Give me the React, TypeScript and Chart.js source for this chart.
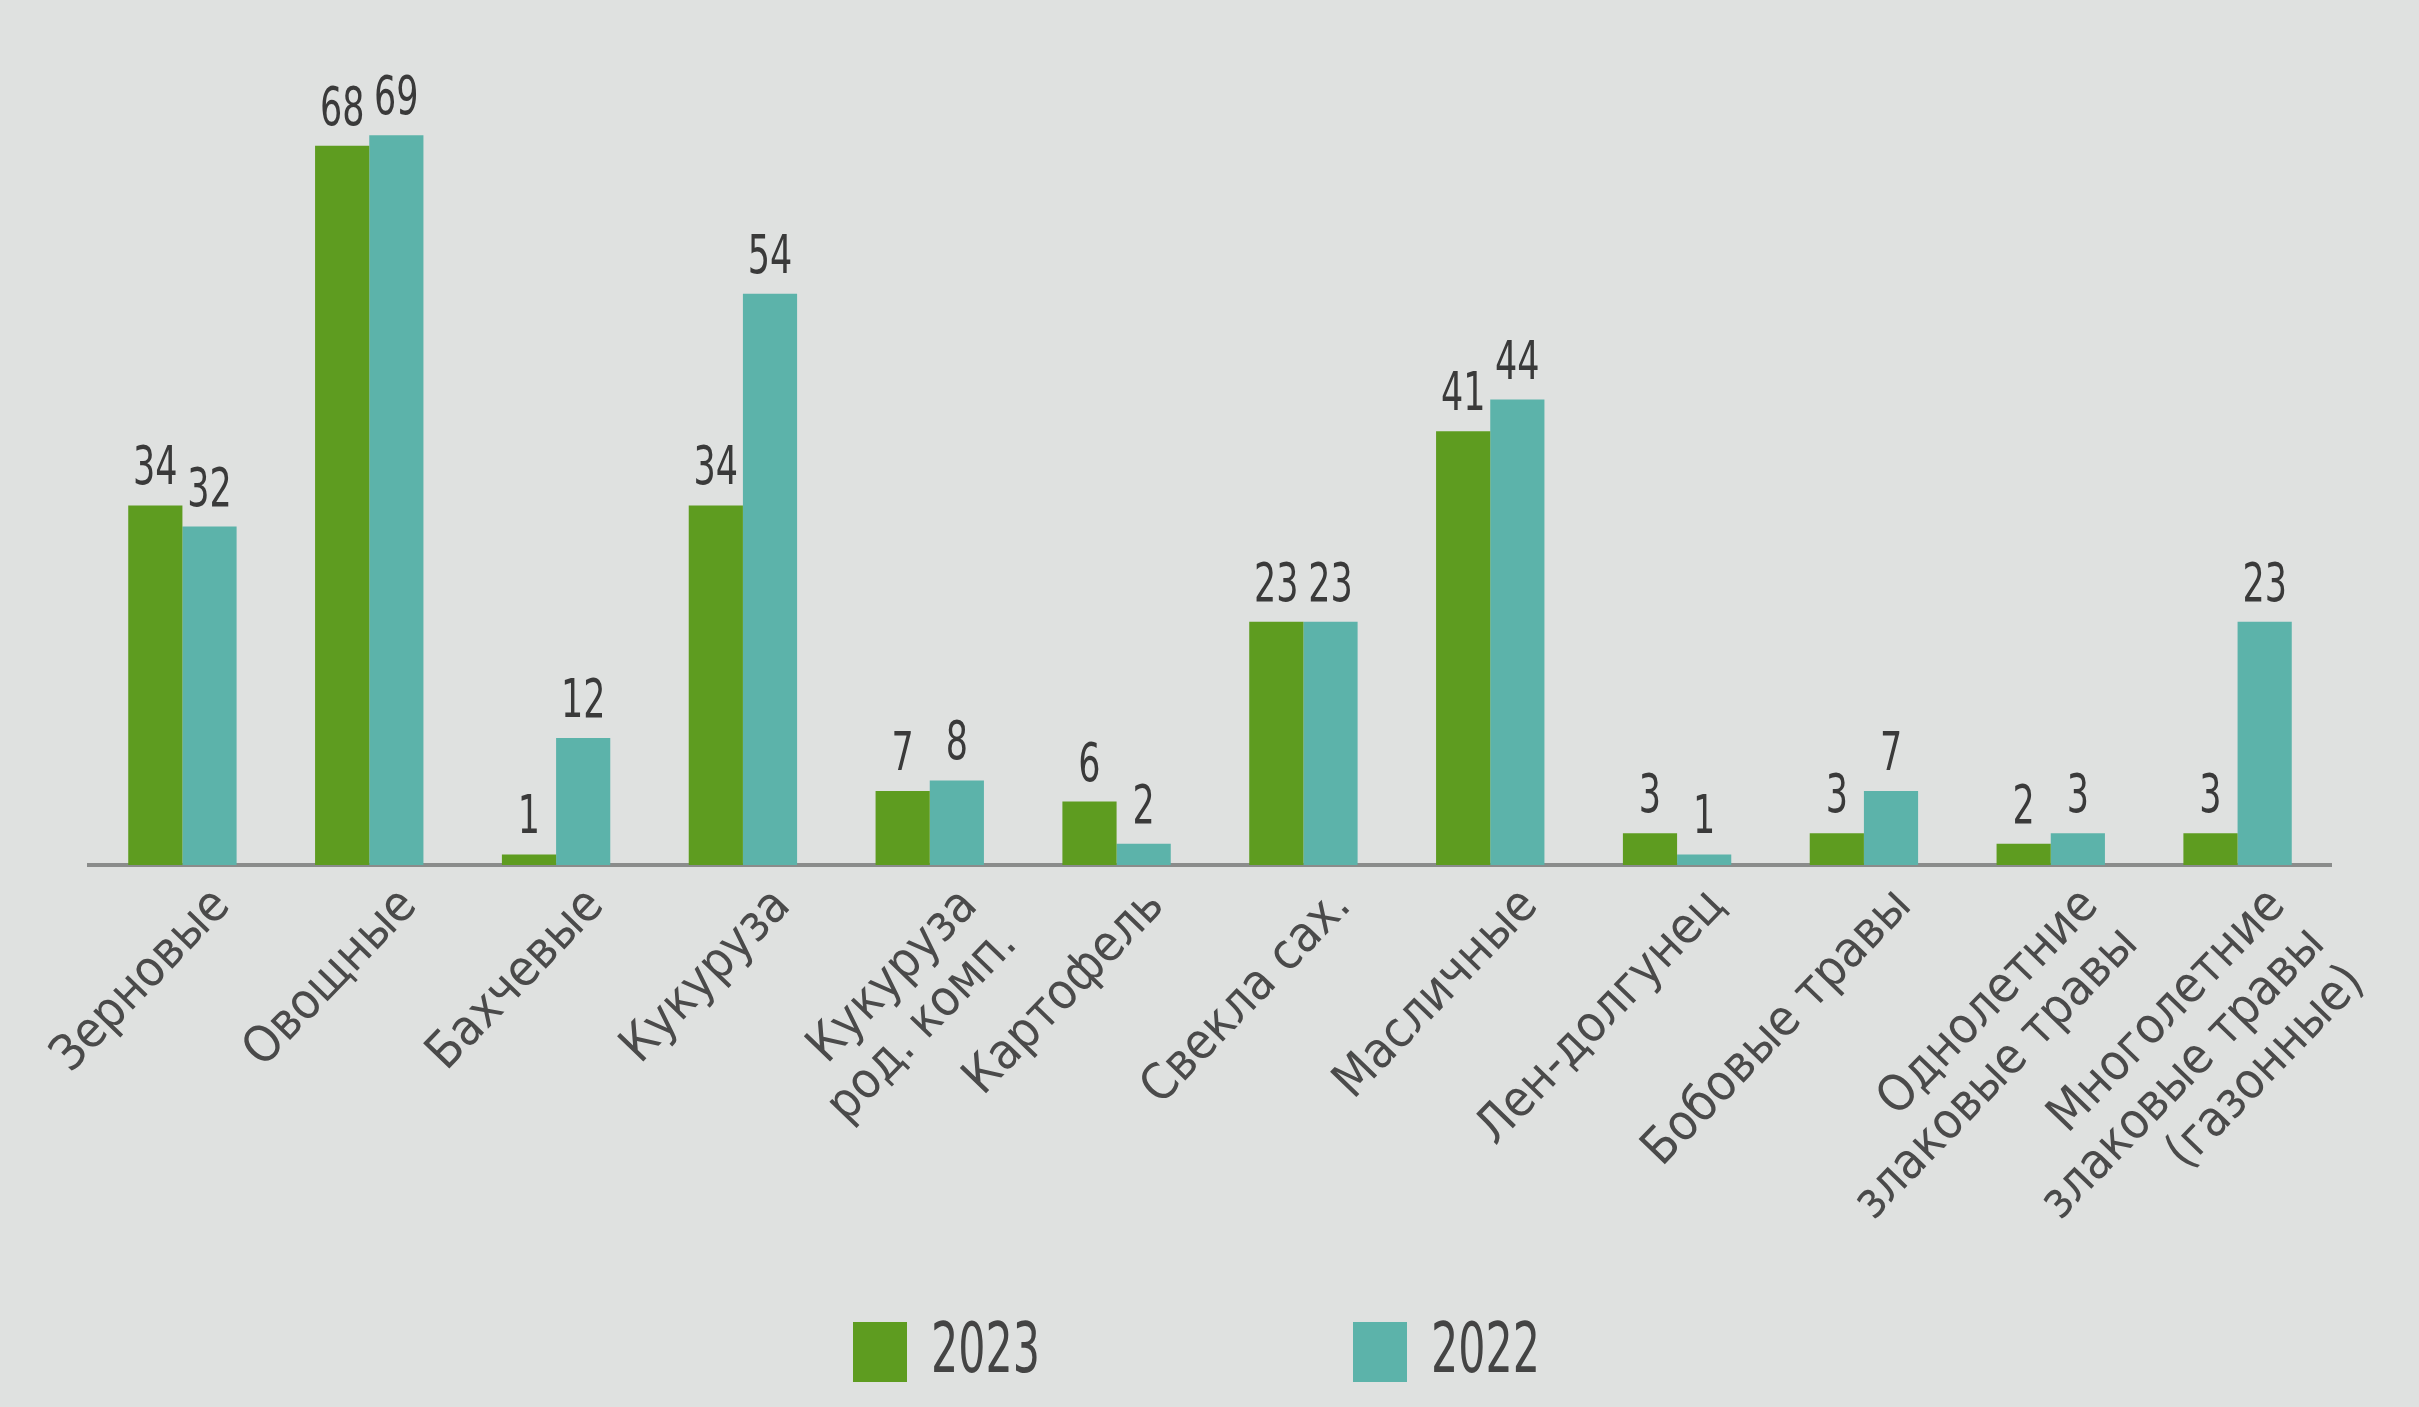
import React, { useEffect, useRef } from "react";
import { Chart, registerables } from "chart.js";

Chart.register(...registerables);

const categories: string[][] = [
  ["Зерновые"],
  ["Овощные"],
  ["Бахчевые"],
  ["Кукуруза"],
  ["Кукуруза", "род. комп."],
  ["Картофель"],
  ["Свекла сах."],
  ["Масличные"],
  ["Лен-долгунец"],
  ["Бобовые травы"],
  ["Однолетние", "злаковые травы"],
  ["Многолетние", "злаковые травы", "(газонные)"],
];

const values2023 = [34, 68, 1, 34, 7, 6, 23, 41, 3, 3, 2, 3];
const values2022 = [32, 69, 12, 54, 8, 2, 23, 44, 1, 7, 3, 23];

const seriesLabels = ["2023", "2022"];
const GREEN = "#5e9c20";
const TEAL = "#5cb3aa";
const BG = "#dfe1e0";
const TEXT = "#3a3a3a";
const FONT = '"DejaVu Sans Condensed", "DejaVu Sans", sans-serif';

// draw text horizontally condensed
function drawNarrow(ctx: any, text: string, x: number, y: number, sx: number) {
  ctx.save();
  ctx.translate(x, y);
  ctx.scale(sx, 1);
  ctx.fillText(text, 0, 0);
  ctx.restore();
}

const valueLabelsPlugin = {
  id: "valueLabels",
  afterDatasetsDraw(chart: any) {
    const ctx = chart.ctx;
    ctx.save();
    ctx.fillStyle = TEXT;
    ctx.font = `54px ${FONT}`;
    ctx.textAlign = "center";
    ctx.textBaseline = "bottom";
    chart.data.datasets.forEach((ds: any, i: number) => {
      const meta = chart.getDatasetMeta(i);
      meta.data.forEach((bar: any, j: number) => {
        drawNarrow(ctx, String(ds.data[j]), bar.x, bar.y - 8, 0.72);
      });
    });
    ctx.restore();
  },
};

const customLegendPlugin = {
  id: "customLegend",
  afterDraw(chart: any) {
    const ctx = chart.ctx;
    ctx.save();
    ctx.font = `70px ${FONT}`;
    ctx.textBaseline = "middle";
    ctx.textAlign = "left";
    const starts = [853, 1353];
    const cy = 1352;
    chart.data.datasets.forEach((ds: any, i: number) => {
      const x = starts[i];
      ctx.fillStyle = ds.backgroundColor;
      ctx.fillRect(x, cy - 30, 54, 60);
      ctx.fillStyle = "#444";
      drawNarrow(ctx, ds.label, x + 78, cy + 2, 0.68);
    });
    ctx.restore();
  },
};

export default function App() {
  const canvasRef = useRef<HTMLCanvasElement | null>(null);

  useEffect(() => {
    if (!canvasRef.current) return;
    const chart = new Chart(canvasRef.current, {
      type: "bar",
      data: {
        labels: categories,
        datasets: [
          {
            label: seriesLabels[0],
            data: values2023,
            backgroundColor: GREEN,
            barPercentage: 1,
            categoryPercentage: 0.58,
          },
          {
            label: seriesLabels[1],
            data: values2022,
            backgroundColor: TEAL,
            barPercentage: 1,
            categoryPercentage: 0.58,
          },
        ],
      },
      options: {
        responsive: false,
        animation: false,
        layout: { padding: { left: 89, right: 88, top: 40, bottom: 0 } },
        plugins: {
          legend: { display: false },
          tooltip: { enabled: false },
        },
        scales: {
          x: {
            grid: { display: false },
            border: { display: true, color: "#8a8c8b", width: 4 },
            ticks: {
              color: "#4a4a4a",
              font: { family: FONT, size: 50, weight: "condensed" as any, lineHeight: 1.1 },
              minRotation: 46,
              maxRotation: 46,
              padding: 6,
              labelOffset: 40,
              autoSkip: false,
            },
            afterFit: (scale: any) => {
              scale.height = 542;
            },
          },
          y: {
            display: false,
            min: 0,
            max: 78,
          },
        },
      },
      plugins: [valueLabelsPlugin, customLegendPlugin],
    });
    return () => chart.destroy();
  }, []);

  return (
    <div
      style={{
        position: "fixed",
        left: 0,
        top: 0,
        width: 2419,
        height: 1407,
        background: BG,
      }}
    >
      <canvas ref={canvasRef} width={2419} height={1407} />
    </div>
  );
}
